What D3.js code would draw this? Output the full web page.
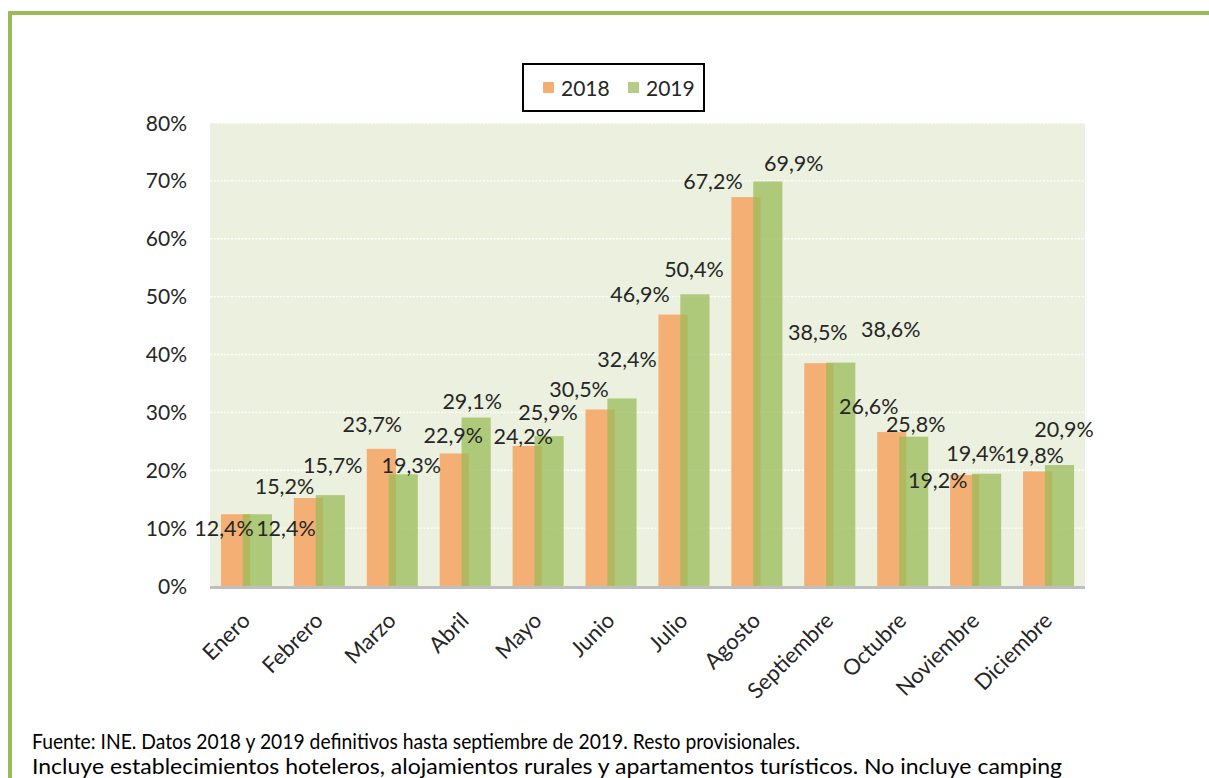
<!DOCTYPE html>
<html>
<head>
<meta charset="utf-8">
<script src="https://cdn.jsdelivr.net/npm/d3@7"></script>
<style>
  html, body { margin: 0; padding: 0; background: #fff; }
  svg { display: block; font-family: Lato, "Open Sans", sans-serif; }
</style>
</head>
<body>
<div id="chart"></div>
<script>
const months = ["Enero", "Febrero", "Marzo", "Abril", "Mayo", "Junio", "Julio",
    "Agosto", "Septiembre", "Octubre", "Noviembre", "Diciembre"];
const seriesNames = ["2018", "2019"];
const values2018 = [12.4, 15.2, 23.7, 22.9, 24.2, 30.5, 46.9, 67.2, 38.5, 26.6, 19.2, 19.8];
const values2019 = [12.4, 15.7, 19.3, 29.1, 25.9, 32.4, 50.4, 69.9, 38.6, 25.8, 19.4, 20.9];
const yTicks = [0, 10, 20, 30, 40, 50, 60, 70, 80];
const footnotes = [
    "Fuente: INE. Datos 2018 y 2019 definitivos hasta septiembre de 2019. Resto provisionales.",
    "Incluye establecimientos hoteleros, alojamientos rurales y apartamentos turísticos. No incluye camping"
];

// label nudges (px, from bar top centre) - labels were dragged around in the original
const labelNudge = [
    [[-11.5, 14], [-24, -12], [-9, -24.5], [-1, -18], [-4, -9.5], [-21, -20],
     [-33, -20], [-33, -16], [-1, -31], [-23, -26], [-27, 5.5], [-3.5, -16]],
    [[28.5, 14], [2.5, -30], [8, -9], [-4, -16], [-1, -24], [5, -39],
     [-1, -25], [26, -18.5], [50, -33], [2, -12.5], [-10.5, -20.5], [4.5, -36]]
];

const CONFIG = {
    width: 1209,
    height: 778,
    plot: { left: 210, right: 1085, top: 123, bottom: 586 },
    colors: {
        frame: "#9BBB59",
        plotBg: "#EBF1DE",
        axis: "#BFBFBF",
        text: "#262626",
        series: ["#F4AF74", "#9BBB59"],
        seriesOpacity: [1, 0.75]
    }
};

const esLocale = d3.formatLocale({ decimal: ",", thousands: ".", grouping: [3], currency: ["", " €"] });
const fmtValue = v => esLocale.format(".1f")(v) + "%";

function drawChart() {
    const { width, height, plot, colors } = CONFIG;
    const series = [values2018, values2019];

    const svg = d3.select("#chart")
        .append("svg")
        .attr("width", width)
        .attr("height", height);

    // outer green frame (runs off the right and bottom edge)
    svg.append("rect")
        .attr("x", 10).attr("y", 13)
        .attr("width", 1400).attr("height", 1000)
        .attr("fill", "none")
        .attr("stroke", colors.frame)
        .attr("stroke-width", 4);

    const x = d3.scaleBand()
        .domain(months)
        .range([plot.left, plot.right])
        .padding(0);

    const y = d3.scaleLinear()
        .domain([0, 80])
        .range([plot.bottom, plot.top]);

    // gap width 75%, overlap 25%
    const barW = x.bandwidth() / 2.5;
    const xSub = d3.scaleLinear().domain([0, 1]).range([0.375 * barW, 1.125 * barW]);

    svg.append("rect")
        .attr("x", plot.left)
        .attr("y", plot.top)
        .attr("width", plot.right - plot.left)
        .attr("height", plot.bottom - plot.top)
        .attr("fill", colors.plotBg);

    // gridlines
    svg.append("g")
        .selectAll("line")
        .data(yTicks.filter(d => d > 0))
        .join("line")
        .attr("x1", plot.left)
        .attr("x2", plot.right)
        .attr("y1", d => y(d))
        .attr("y2", d => y(d))
        .attr("stroke", "#fff")
        .attr("stroke-width", 1.3)
        .attr("stroke-dasharray", "2,1.5");

    // y tick labels
    svg.append("g")
        .selectAll("text")
        .data(yTicks)
        .join("text")
        .attr("x", 187)
        .attr("y", d => y(d))
        .attr("dy", "0.36em")
        .attr("text-anchor", "end")
        .attr("font-size", 21)
        .attr("fill", colors.text)
        .text(d => d + "%");

    // bars
    series.forEach((vals, s) => {
        svg.append("g")
            .selectAll("rect")
            .data(vals)
            .join("rect")
            .attr("x", (d, i) => x(months[i]) + xSub(s))
            .attr("y", d => y(d))
            .attr("width", barW)
            .attr("height", d => y(0) - y(d))
            .attr("fill", colors.series[s])
            .attr("fill-opacity", colors.seriesOpacity[s]);
    });

    // x axis line
    svg.append("line")
        .attr("x1", plot.left)
        .attr("x2", plot.right)
        .attr("y1", plot.bottom + 1.5)
        .attr("y2", plot.bottom + 1.5)
        .attr("stroke", colors.axis)
        .attr("stroke-width", 3);

    // data labels
    series.forEach((vals, s) => {
        svg.append("g")
            .selectAll("text")
            .data(vals)
            .join("text")
            .attr("x", (d, i) => x(months[i]) + xSub(s) + barW / 2 + labelNudge[s][i][0])
            .attr("y", (d, i) => y(d) + labelNudge[s][i][1])
            .attr("dy", "0.36em")
            .attr("text-anchor", "middle")
            .attr("font-size", 21.5)
            .attr("fill", colors.text)
            .text(d => fmtValue(d));
    });

    // month labels, rotated
    svg.append("g")
        .selectAll("text")
        .data(months)
        .join("text")
        .attr("transform", d => `translate(${x(d) + x.bandwidth() / 2 + 5},${plot.bottom + 36}) rotate(-45)`)
        .attr("text-anchor", "end")
        .attr("font-size", 22)
        .attr("fill", colors.text)
        .text(d => d);

    // legend
    const legend = svg.append("g").attr("transform", "translate(523,64)");
    legend.append("rect")
        .attr("width", 181)
        .attr("height", 47)
        .attr("fill", "#fff")
        .attr("stroke", "#000")
        .attr("stroke-width", 2);
    const legX = [20, 105];
    seriesNames.forEach((name, s) => {
        legend.append("rect")
            .attr("x", legX[s])
            .attr("y", 18)
            .attr("width", 11)
            .attr("height", 11)
            .attr("fill", colors.series[s])
            .attr("fill-opacity", colors.seriesOpacity[s]);
        legend.append("text")
            .attr("x", legX[s] + 18)
            .attr("y", 32)
            .attr("font-size", 21)
            .attr("fill", colors.text)
            .text(name);
    });

    // footnotes
    const footLen = [768, 1030];
    svg.append("g")
        .selectAll("text")
        .data(footnotes)
        .join("text")
        .attr("x", 32)
        .attr("y", (d, i) => 749 + i * 25)
        .attr("font-size", 21)
        .attr("fill", "#000")
        .attr("textLength", (d, i) => footLen[i])
        .attr("lengthAdjust", "spacingAndGlyphs")
        .text(d => d);
}

document.addEventListener("DOMContentLoaded", drawChart);
</script>
</body>
</html>
